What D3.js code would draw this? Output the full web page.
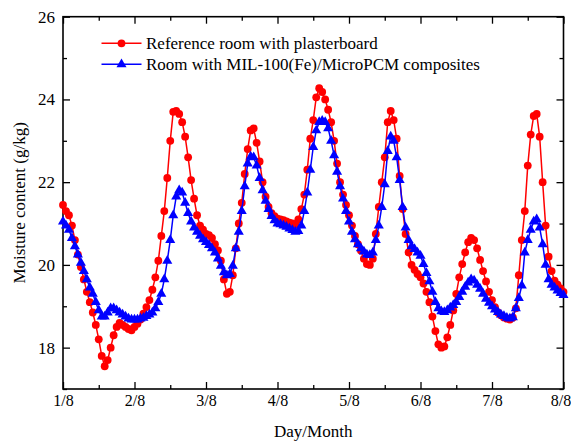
<!DOCTYPE html>
<html>
<head>
<meta charset="utf-8">
<script src="https://cdn.jsdelivr.net/npm/d3@7"></script>
<style>
  body { margin: 0; background: #fff; }
  svg { display: block; font-family: "Liberation Serif", "Times New Roman", serif; }
</style>
</head>
<body>
<svg id="chart" width="571" height="441"></svg>
<script>
// ---- DATA (hourly, 1/8 00:00 -> 8/8 00:00) ----
const dayLabels = ["1/8", "2/8", "3/8", "4/8", "5/8", "6/8", "7/8", "8/8"];
const yTickValues = [18, 20, 22, 24, 26];
const seriesNames = ["Reference room with plasterboard", "Room with MIL-100(Fe)/MicroPCM composites"];

const referenceRoom = [
  21.45, 21.3, 21.2, 20.95, 20.6, 20.25, 19.95, 19.65, 19.35, 19.1, 18.85, 18.55, 18.2, 17.8, 17.55, 17.7, 18.0, 18.3, 18.5, 18.6, 18.55, 18.5, 18.45, 18.42,
  18.5, 18.58, 18.68, 18.82, 18.98, 19.15, 19.4, 19.7, 20.1, 20.7, 21.3, 22.1, 23.0, 23.7, 23.72, 23.65, 23.45, 23.1, 22.6, 22.05, 21.6, 21.2, 20.95, 20.85,
  20.75, 20.72, 20.65, 20.5, 20.35, 20.1, 19.65, 19.3, 19.35, 19.75, 20.4, 21.0, 21.5, 22.2, 22.8, 23.25, 23.3, 22.95, 22.5, 22.0, 21.65, 21.4, 21.25, 21.18,
  21.12, 21.1, 21.08, 21.05, 21.02, 21.0, 20.98, 21.1, 21.35, 21.7, 22.3, 23.05, 23.5, 24.05, 24.27, 24.18, 24.0, 23.75, 23.45, 23.0, 22.45, 22.0, 21.7, 21.45,
  21.2, 20.95, 20.7, 20.5, 20.35, 20.15, 20.02, 20.0, 20.15, 20.75, 21.4, 22.0, 22.6, 23.45, 23.72, 23.5, 23.05, 22.15, 21.35, 20.75, 20.3, 20.0, 19.88, 19.78,
  19.7, 19.55, 19.35, 19.1, 18.75, 18.4, 18.08, 18.0, 18.03, 18.25, 18.55, 18.9, 19.3, 19.7, 20.02, 20.3, 20.55, 20.65, 20.6, 20.4, 20.12, 19.85, 19.6, 19.35,
  19.15, 18.98, 18.85, 18.78, 18.73, 18.7, 18.68, 18.73, 18.95, 19.75, 20.6, 21.3, 22.4, 23.15, 23.6, 23.65, 23.1, 22.0, 20.95, 20.2, 19.85, 19.62, 19.52, 19.43,
  19.35
];

const pcmRoom = [
  21.05, 20.95, 20.85, 20.65, 20.45, 20.25, 20.05, 19.85, 19.65, 19.45, 19.3, 19.1, 18.9, 18.75, 18.75, 18.85, 18.95, 18.95, 18.9, 18.85, 18.8, 18.75, 18.7, 18.68,
  18.68, 18.68, 18.7, 18.72, 18.76, 18.8, 18.85, 18.95, 19.1, 19.3, 19.65, 20.1, 20.6, 21.2, 21.65, 21.8, 21.75, 21.5, 21.25, 21.05, 20.9, 20.8, 20.7, 20.62,
  20.55, 20.48, 20.4, 20.3, 20.15, 19.98, 19.82, 19.75, 19.78, 19.98, 20.4, 20.8, 21.3, 21.9, 22.45, 22.62, 22.6, 22.4, 22.1, 21.8, 21.55, 21.35, 21.18, 21.08,
  21.0, 20.98, 20.95, 20.92, 20.88, 20.84, 20.8, 20.82, 20.95, 21.3, 21.75, 22.3, 22.85, 23.25, 23.45, 23.48, 23.45, 23.3, 23.0, 22.65, 22.25, 21.9, 21.6, 21.3,
  21.05, 20.8, 20.62, 20.5, 20.4, 20.32, 20.25, 20.24, 20.3, 20.6, 20.95, 21.4, 21.95, 22.75, 23.1, 23.0, 22.6, 22.05, 21.4, 20.9, 20.6, 20.45, 20.38, 20.3,
  20.22, 20.02, 19.8, 19.6, 19.35, 19.1, 18.95, 18.88, 18.86, 18.9, 18.97, 19.03, 19.1, 19.22, 19.35, 19.47, 19.57, 19.65, 19.62, 19.52, 19.42, 19.3, 19.18, 19.08,
  19.0, 18.92, 18.86, 18.8, 18.76, 18.72, 18.7, 18.73, 18.95, 19.2, 19.5, 20.3, 20.6, 20.85, 21.05, 21.1, 20.9, 20.5, 20.0, 19.65, 19.52, 19.45, 19.38, 19.32,
  19.27
];

// ---- LAYOUT ----
const svg = d3.select("#chart");
const plot = { left: 63, right: 563.5, top: 16.7, bottom: 389 };

const x = d3.scaleLinear().domain([0, 168]).range([plot.left, plot.right]);
const y = d3.scaleLinear().domain([17, 26]).range([plot.bottom, plot.top]);

const dayTicks = dayLabels.map((d, i) => i * 24);
const halfDayTicks = dayTicks.slice(0, -1).map(h => h + 12);
const minorY = [17, 19, 21, 23, 25];

// ---- AXES (ticks pointing inward on all four sides) ----
function styleAxis(g) {
  g.select(".domain").remove();
  g.selectAll("line").attr("stroke", "#000").attr("stroke-width", 1.3);
  g.selectAll("text").attr("fill", "#000").attr("font-size", 16)
    .attr("font-family", "'Liberation Serif', 'Times New Roman', serif");
}

svg.append("g")
  .attr("transform", `translate(0,${plot.bottom})`)
  .call(d3.axisBottom(x).tickValues(dayTicks).tickSize(-7).tickPadding(6)
    .tickFormat((d, i) => dayLabels[i]))
  .call(styleAxis)
  // last label would run past the window edge; nudge it left like the original
  .call(g => g.selectAll(".tick:last-of-type text").attr("dx", -3));
svg.append("g")
  .attr("transform", `translate(0,${plot.bottom})`)
  .call(d3.axisBottom(x).tickValues(halfDayTicks).tickSize(-4).tickFormat(""))
  .call(styleAxis);
svg.append("g")
  .attr("transform", `translate(0,${plot.top})`)
  .call(d3.axisTop(x).tickValues(dayTicks).tickSize(-7).tickFormat(""))
  .call(styleAxis);
svg.append("g")
  .attr("transform", `translate(0,${plot.top})`)
  .call(d3.axisTop(x).tickValues(halfDayTicks).tickSize(-4).tickFormat(""))
  .call(styleAxis);

svg.append("g")
  .attr("transform", `translate(${plot.left},0)`)
  .call(d3.axisLeft(y).tickValues(yTickValues).tickSize(-7).tickPadding(8).tickFormat(d3.format("d")))
  .call(styleAxis)
  .call(g => g.selectAll("text").attr("font-size", 17));
svg.append("g")
  .attr("transform", `translate(${plot.left},0)`)
  .call(d3.axisLeft(y).tickValues(minorY).tickSize(-4).tickFormat(""))
  .call(styleAxis);
svg.append("g")
  .attr("transform", `translate(${plot.right},0)`)
  .call(d3.axisRight(y).tickValues(yTickValues).tickSize(-7).tickFormat(""))
  .call(styleAxis);
svg.append("g")
  .attr("transform", `translate(${plot.right},0)`)
  .call(d3.axisRight(y).tickValues(minorY).tickSize(-4).tickFormat(""))
  .call(styleAxis);

// frame
svg.append("rect")
  .attr("x", plot.left).attr("y", plot.top)
  .attr("width", plot.right - plot.left).attr("height", plot.bottom - plot.top)
  .attr("fill", "none").attr("stroke", "#000").attr("stroke-width", 1.6);

// axis titles
svg.append("text")
  .attr("x", (plot.left + plot.right) / 2).attr("y", 437)
  .attr("text-anchor", "middle").attr("font-size", 17)
  .text("Day/Month");
svg.append("text")
  .attr("transform", `translate(25,${(plot.top + plot.bottom) / 2}) rotate(-90)`)
  .attr("text-anchor", "middle").attr("font-size", 17)
  .text("Moisture content (g/kg)");

// ---- SERIES ----
const line = d3.line().x((d, i) => x(i)).y(d => y(d));

const series = [
  { name: seriesNames[0], values: referenceRoom, color: "#ff0000", symbol: d3.symbolCircle, size: 48 },
  { name: seriesNames[1], values: pcmRoom, color: "#0000ff", symbol: d3.symbolTriangle, size: 44 }
];

series.forEach(s => {
  const g = svg.append("g");
  g.append("path")
    .datum(s.values)
    .attr("d", line)
    .attr("fill", "none")
    .attr("stroke", s.color)
    .attr("stroke-width", 1.5);
  g.selectAll("path.mark")
    .data(s.values)
    .join("path")
    .attr("class", "mark")
    .attr("transform", (d, i) => `translate(${x(i)},${y(d)})`)
    .attr("d", d3.symbol(s.symbol, s.size))
    .attr("fill", s.color);
});

// ---- LEGEND ----
const legend = svg.append("g");
series.forEach((s, i) => {
  const ly = 43.3 + i * 21;
  legend.append("line")
    .attr("x1", 101.5).attr("x2", 141.5).attr("y1", ly).attr("y2", ly)
    .attr("stroke", s.color).attr("stroke-width", 1.5);
  legend.append("path")
    .attr("transform", `translate(121.5,${ly})`)
    .attr("d", d3.symbol(s.symbol, s.size))
    .attr("fill", s.color);
  legend.append("text")
    .attr("x", 146).attr("y", ly + 5.5)
    .attr("font-size", 17)
    .text(s.name);
});
</script>
</body>
</html>
